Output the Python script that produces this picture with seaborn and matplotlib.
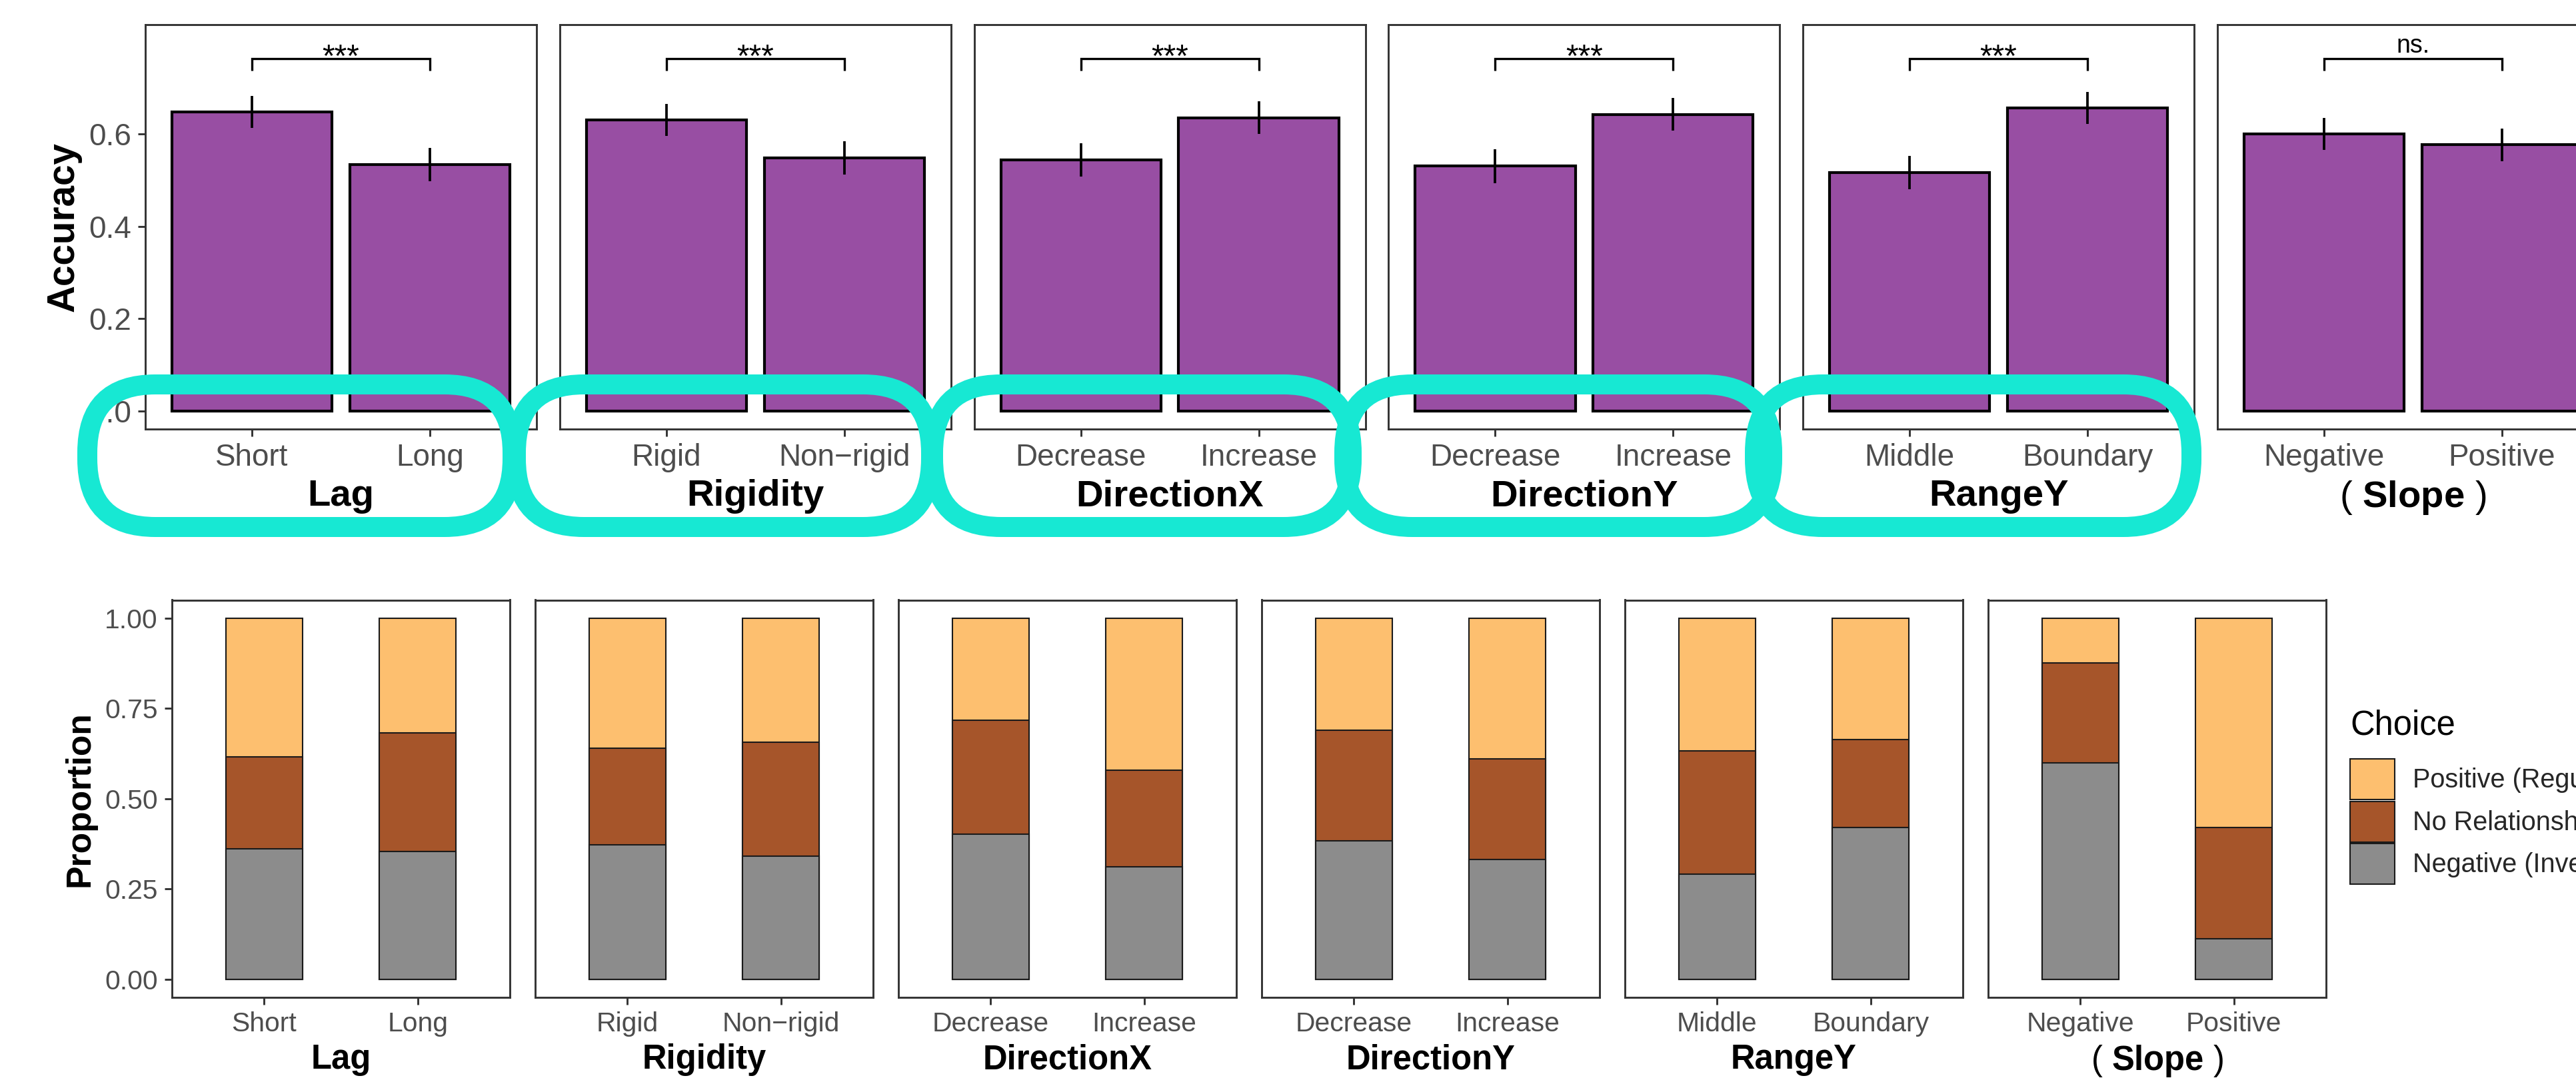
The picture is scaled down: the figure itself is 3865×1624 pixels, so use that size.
import numpy as np
import pandas as pd
import matplotlib
matplotlib.use("Agg")
import matplotlib.pyplot as plt
import seaborn as sns
from matplotlib.patches import FancyBboxPatch, Patch

# ---------------- data ----------------
factors = ["Lag", "Rigidity", "DirectionX", "DirectionY", "RangeY", "( $\\mathbf{Slope}$ )"]
levels = [["Short", "Long"],
          ["Rigid", "Non\u2212rigid"],
          ["Decrease", "Increase"],
          ["Decrease", "Increase"],
          ["Middle", "Boundary"],
          ["Negative", "Positive"]]

accuracy = [[0.648, 0.534],
            [0.631, 0.549],
            [0.544, 0.636],
            [0.531, 0.643],
            [0.517, 0.657],
            [0.601, 0.577]]
acc_err = [[0.035, 0.036],
           [0.035, 0.036],
           [0.036, 0.035],
           [0.037, 0.035],
           [0.036, 0.035],
           [0.035, 0.035]]
signif = ["***", "***", "***", "***", "***", "ns."]

prop_negative = [[0.362, 0.354], [0.373, 0.341], [0.402, 0.312],
                 [0.384, 0.332], [0.292, 0.420], [0.600, 0.113]]
prop_none = [[0.254, 0.328], [0.266, 0.316], [0.315, 0.267],
             [0.306, 0.278], [0.341, 0.243], [0.276, 0.308]]
prop_positive = [[0.384, 0.318], [0.361, 0.343], [0.283, 0.421],
                 [0.310, 0.390], [0.367, 0.337], [0.124, 0.579]]

legend_title = "Choice"
choice_labels = ["Positive (Regular)", "No Relationship", "Negative (Inverse)"]

# ---------------- style ----------------
sns.set_theme(style="white")
plt.rcParams["font.family"] = ["Liberation Sans", "DejaVu Sans"]
plt.rcParams["mathtext.fontset"] = "custom"
plt.rcParams["mathtext.rm"] = "Liberation Sans"
plt.rcParams["mathtext.bf"] = "Liberation Sans:bold"

W, H, DPI = 3865, 1624, 300
PURPLE = "#984EA3"
C_POS, C_NONE, C_NEG = "#FDBF6F", "#A6552A", "#8C8C8C"
TEAL = "#17E8D3"
FRAME = "#333333"
TICKTXT = "#4D4D4D"

fig = plt.figure(figsize=(W / DPI, H / DPI), dpi=DPI)
fig.patch.set_facecolor("white")


def px_axes(left, top, width, height):
    return fig.add_axes([left / W, 1 - (top + height) / H, width / W, height / H])


def style_axes(ax, tick_fs, show_y):
    for s in ax.spines.values():
        s.set_visible(True)
        s.set_color(FRAME)
        s.set_linewidth(0.7)
    ax.tick_params(axis="x", length=2.75, width=0.7, color=FRAME, pad=2.3,
                   labelsize=tick_fs, labelcolor=TICKTXT, bottom=True)
    if show_y:
        ax.tick_params(axis="y", length=2.75, width=0.7, color=FRAME, pad=2.3,
                       labelsize=tick_fs, labelcolor=TICKTXT, left=True)
    else:
        ax.tick_params(axis="y", left=False, labelleft=False)
    ax.grid(False)
    ax.set_facecolor("white")


def set_title_label(ax, text, fs, ycoord):
    if "$" in text:
        ax.set_xlabel(text, fontsize=fs, fontweight="normal", color="black")
    else:
        ax.set_xlabel(text, fontsize=fs, fontweight="bold", color="black")
    ax.xaxis.set_label_coords(0.5, ycoord)


# ---------------- top row: accuracy ----------------
TOP_L0, TOP_STEP, TOP_W, TOP_T, TOP_H = 218, 621.8, 587, 37, 607
for i, fac in enumerate(factors):
    ax = px_axes(TOP_L0 + i * TOP_STEP, TOP_T, TOP_W, TOP_H)
    df = pd.DataFrame({"level": levels[i], "acc": accuracy[i], "err": acc_err[i]})
    sns.barplot(data=df, x="level", y="acc", order=levels[i], color=PURPLE,
                saturation=1, width=0.9, edgecolor="black", linewidth=1.0,
                errorbar=None, ax=ax)
    ax.errorbar(x=np.arange(len(df)), y=df["acc"], yerr=df["err"], fmt="none",
                ecolor="black", elinewidth=0.9, capsize=0, zorder=5)
    # significance bracket
    ax.plot([0, 0, 1, 1], [0.738, 0.764, 0.764, 0.738], color="black",
            lw=0.8, solid_capstyle="butt", solid_joinstyle="miter")
    if signif[i] == "***":
        ax.text(0.5, 0.7486, signif[i], ha="center", va="baseline", fontsize=11.5,
                color="black")
    else:
        ax.text(0.5, 0.777, signif[i], ha="center", va="baseline", fontsize=9,
                color="black")
    ax.set_xlim(-0.6, 1.6)
    ax.set_ylim(-0.039, 0.8375)
    ax.set_yticks([0.0, 0.2, 0.4, 0.6])
    ax.set_yticklabels(["0.0", "0.2", "0.4", "0.6"])
    style_axes(ax, 11, i == 0)
    set_title_label(ax, fac, 13.5, -0.1236)
    if i == 0:
        ax.set_ylabel("Accuracy", fontsize=13.6, fontweight="bold", color="black")
        ax.yaxis.set_label_coords((96 - 218) / TOP_W, 0.5)
        ax.yaxis.label.set_verticalalignment("center")
    else:
        ax.set_ylabel("")

# ---------------- bottom row: proportions ----------------
BOT_L0, BOT_STEP, BOT_W, BOT_T, BOT_H = 258, 545.0, 507, 900.5, 596.5
for i, fac in enumerate(factors):
    ax = px_axes(BOT_L0 + i * BOT_STEP, BOT_T, BOT_W, BOT_H)
    neg = np.array(prop_negative[i])
    none = np.array(prop_none[i])
    pos = np.array(prop_positive[i])
    layers = [(neg + none + pos, C_POS), (neg + none, C_NONE), (neg, C_NEG)]
    for vals, col in layers:
        sns.barplot(x=levels[i], y=vals, order=levels[i], color=col, saturation=1,
                    width=0.5, edgecolor="#1a1a1a", linewidth=0.5, errorbar=None,
                    ax=ax)
    ax.set_xlim(-0.6, 1.6)
    ax.set_ylim(-0.05, 1.05)
    ax.set_yticks([0.0, 0.25, 0.5, 0.75, 1.0])
    ax.set_yticklabels(["0.00", "0.25", "0.50", "0.75", "1.00"])
    style_axes(ax, 9.8, i == 0)
    set_title_label(ax, fac, 12.2, -0.1157)
    if i == 0:
        ax.set_ylabel("Proportion", fontsize=12.4, fontweight="bold", color="black")
        ax.yaxis.set_label_coords((120 - 258) / BOT_W, 0.5)
        ax.yaxis.label.set_verticalalignment("center")
    else:
        ax.set_ylabel("")

# ---------------- legend ----------------
handles = [Patch(facecolor=c, edgecolor="#1a1a1a", linewidth=0.5)
           for c in (C_POS, C_NONE, C_NEG)]
leg = fig.legend(handles, choice_labels, loc="upper left",
                 bbox_to_anchor=(3526 / W, 1 - 1139 / H), frameon=False,
                 fontsize=9.5, handlelength=1.68, handleheight=2.0,
                 handletextpad=0.7, labelspacing=0.06,
                 borderpad=0, borderaxespad=0)
fig.text(3526 / W, 1 - 1089 / H, legend_title, ha="left", va="center",
         fontsize=12.2, color="black")

# ---------------- hand-drawn highlight loops ----------------
loops = [(131, 769), (774, 1397), (1400, 2028), (2017, 2659), (2633, 3288)]
y_top, y_bot = 577, 791
for x0, x1 in loops:
    patch = FancyBboxPatch((x0 / DPI, (H - y_bot) / DPI), (x1 - x0) / DPI,
                           (y_bot - y_top) / DPI,
                           boxstyle="round,pad=0,rounding_size=0.34",
                           transform=fig.dpi_scale_trans, facecolor="none",
                           edgecolor=TEAL, linewidth=7.2, zorder=20)
    fig.add_artist(patch)

fig.savefig("out.png", dpi=DPI, facecolor="white")
